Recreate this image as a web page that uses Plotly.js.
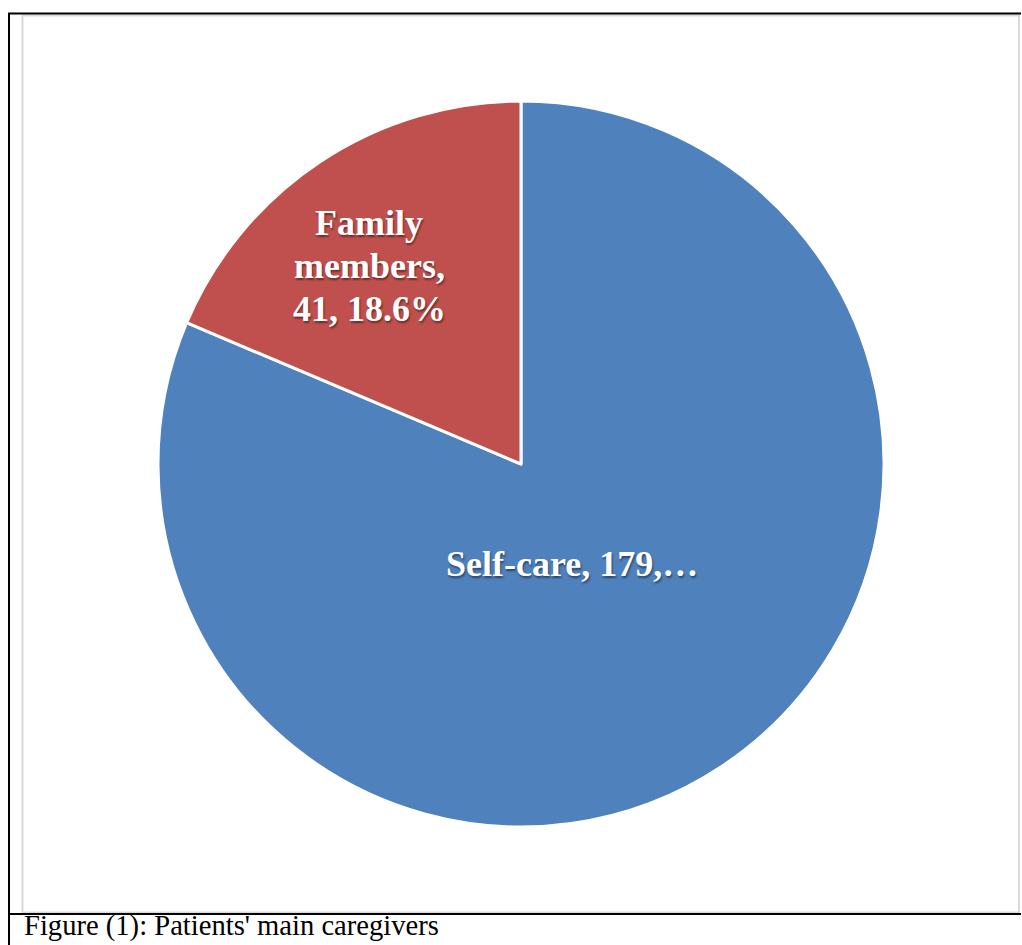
<!DOCTYPE html>
<html>
<head>
<meta charset="utf-8">
<script src="https://cdn.plot.ly/plotly-3.0.1.min.js"></script>
<style>html,body{margin:0;padding:0;background:#fff;}#chart{width:1022px;height:945px;}</style>
</head>
<body>
<div id="chart"></div>
<script>
// Data
const categories = ["Self-care", "Family members"];
const counts = [179, 41];
const percents = ["81.4%", "18.6%"];
const colors = ["#4F81BD", "#C0504D"];
const caption = "Figure (1): Patients' main caregivers";
// Label lines as shown in the chart
const selfLabelLines = [categories[0] + ", " + counts[0] + ",…"];
const familyLabelLines = ["Family", "members,", counts[1] + ", " + percents[1]];

const W = 1022, H = 945;
const px = x => x / W;
const py = y => 1 - y / H;

const labelFont = {family: "Liberation Serif, Times New Roman, serif", size: 36, color: "#ffffff", weight: 700,
  shadow: "1px 2px 2px rgba(0,0,0,0.45)"};

const annotations = [];
const famY = [223, 266, 309];
familyLabelLines.forEach((t, i) => annotations.push({
  xref: "paper", yref: "paper", x: px(369), y: py(famY[i]), text: t, showarrow: false,
  xanchor: "center", yanchor: "middle", font: labelFont
}));
selfLabelLines.forEach((t) => annotations.push({
  xref: "paper", yref: "paper", x: px(572), y: py(564), text: t, showarrow: false,
  xanchor: "center", yanchor: "middle", font: labelFont
}));
annotations.push({
  xref: "paper", yref: "paper", x: px(22), y: py(944), text: caption, showarrow: false,
  xanchor: "left", yanchor: "bottom",
  font: {family: "Liberation Serif, Times New Roman, serif", size: 28.6, color: "#000"}
});

const shapes = [
  // gray inner frame
  {type: "rect", xref: "paper", yref: "paper", x0: px(22.5), x1: px(1019), y0: py(912.5), y1: py(15.5),
   line: {color: "#d9d9d9", width: 2}},
  // black lines
  {type: "line", xref: "paper", yref: "paper", x0: px(8), x1: px(1021), y0: py(13.5), y1: py(13.5), line: {color: "#000", width: 2}},
  {type: "line", xref: "paper", yref: "paper", x0: px(9), x1: px(9), y0: py(13), y1: py(945), line: {color: "#000", width: 2}},
  {type: "line", xref: "paper", yref: "paper", x0: px(8), x1: px(1021), y0: py(914), y1: py(914), line: {color: "#000", width: 2}}
];

const trace = {
  type: "pie",
  labels: categories,
  values: counts,
  marker: {colors: colors, line: {color: "#ffffff", width: 3}},
  sort: false,
  direction: "clockwise",
  rotation: 0,
  textinfo: "none",
  hoverinfo: "label+value+percent",
  showlegend: false,
  domain: {x: [px(158), px(884)], y: [py(827), py(101)]}
};

Plotly.newPlot("chart", [trace], {
  width: W, height: H,
  margin: {l: 0, r: 0, t: 0, b: 0},
  paper_bgcolor: "#ffffff",
  showlegend: false,
  annotations: annotations,
  shapes: shapes
}, {displayModeBar: false});
</script>
</body>
</html>
